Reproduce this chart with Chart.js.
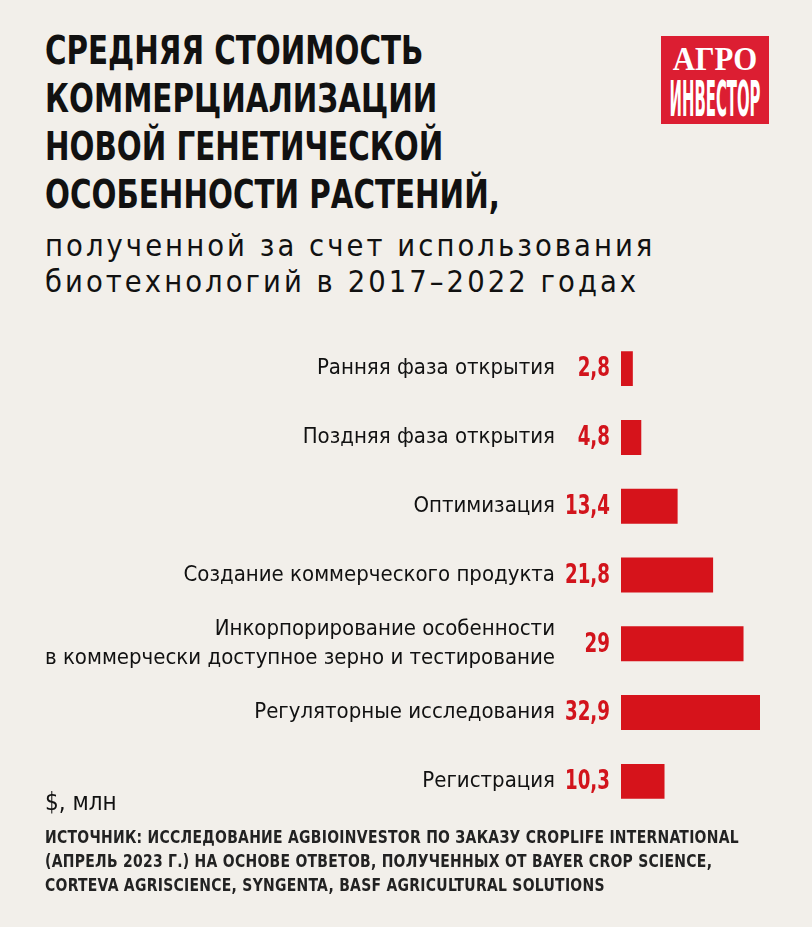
<!DOCTYPE html>
<html lang="ru">
<head>
<meta charset="utf-8">
<script src="https://cdn.jsdelivr.net/npm/chart.js@4.4.0/dist/chart.umd.min.js"></script>
<style>
  html, body { margin: 0; padding: 0; background: #f2efea; }
  body { width: 812px; height: 927px; position: relative; overflow: hidden; color: #111; }
  .narrow { font-family: "DejaVu Sans Condensed", "DejaVu Sans", sans-serif; font-stretch: condensed; }
  .fit { display: inline-block; transform-origin: left top; white-space: nowrap; }
  #title { position: absolute; left: 45px; top: 27px; font-weight: bold; font-size: 39px; line-height: 48px; }
  #subtitle { position: absolute; left: 45px; top: 228px; font-size: 30px; line-height: 36px; letter-spacing: 3px; }
  #unit { position: absolute; left: 45px; top: 788px; font-size: 24px; line-height: 28px; }
  #source { position: absolute; left: 45px; top: 825px; font-weight: bold; font-size: 17px; line-height: 24px; color: #222; letter-spacing: 0.3px; }
  #logo { position: absolute; left: 661px; top: 36px; width: 108px; height: 88px; background: #dc1e32; color: #fff; }
  #logo div { position: absolute; left: 50%; white-space: nowrap; font-weight: bold; }
  #logo .l1 { top: 3px; font-family: "Liberation Serif", serif; font-size: 33px; line-height: 40px; }
  #logo .l2 { top: 38px; font-size: 50px; line-height: 50px; }
  #chartWrap { position: absolute; left: 0; top: 320px; width: 812px; height: 510px; }
</style>
</head>
<body>
<div id="title" class="narrow fit" data-w="455">СРЕДНЯЯ СТОИМОСТЬ<br>КОММЕРЦИАЛИЗАЦИИ<br>НОВОЙ ГЕНЕТИЧЕСКОЙ<br>ОСОБЕННОСТИ РАСТЕНИЙ,</div>
<div id="subtitle" class="narrow fit" data-w="610">полученной за счет использования<br>биотехнологий в 2017–2022 годах</div>
<div id="logo"><div class="l1" data-w="84">АГРО</div><div class="l2 narrow" data-w="91">ИНВЕСТОР</div></div>
<div id="chartWrap"><canvas id="costChart" width="812" height="510"></canvas></div>
<div id="unit" class="narrow">$, млн</div>
<div id="source" class="narrow fit" data-w="694">ИСТОЧНИК: ИССЛЕДОВАНИЕ AGBIOINVESTOR ПО ЗАКАЗУ CROPLIFE INTERNATIONAL<br>(АПРЕЛЬ 2023 Г.) НА ОСНОВЕ ОТВЕТОВ, ПОЛУЧЕННЫХ ОТ BAYER CROP SCIENCE,<br>CORTEVA AGRISCIENCE, SYNGENTA, BASF AGRICULTURAL SOLUTIONS</div>

<script>
const NARROW = '"DejaVu Sans Condensed", "DejaVu Sans", sans-serif';

// этапы коммерциализации
const stages = [
    'Ранняя фаза открытия',
    'Поздняя фаза открытия',
    'Оптимизация',
    'Создание коммерческого продукта',
    ['Инкорпорирование особенности', 'в коммерчески доступное зерно и тестирование'],
    'Регуляторные исследования',
    'Регистрация'
];
// средняя стоимость, $ млн
const costs = [2.8, 4.8, 13.4, 21.8, 29, 32.9, 10.3];

const BAR_RED = '#d6131b';

// сжать блоки текста по ширине, как в макете
document.querySelectorAll('.fit').forEach(el => {
    const k = el.dataset.w / el.offsetWidth;
    el.style.transform = 'scaleX(' + k + ')';
});
document.querySelectorAll('#logo div').forEach(el => {
    const k = el.dataset.w / el.offsetWidth;
    el.style.transform = 'translateX(-50%) scaleX(' + k + ')';
});

// подписи значений слева от столбцов
const valueLabels = {
    id: 'valueLabels',
    afterDatasetsDraw(chart) {
        const ctx = chart.ctx;
        const meta = chart.getDatasetMeta(0);
        ctx.save();
        ctx.font = 'bold 26px ' + NARROW;
        ctx.fillStyle = '#d2141c';
        ctx.textAlign = 'right';
        ctx.textBaseline = 'middle';
        meta.data.forEach((bar, i) => {
            const txt = String(costs[i]).replace('.', ',');
            ctx.save();
            ctx.translate(chart.chartArea.left - 11, bar.y + 1);
            ctx.scale(0.78, 1);
            ctx.fillText(txt, 0, 0);
            ctx.restore();
        });
        ctx.restore();
    }
};

const ctx = document.getElementById('costChart').getContext('2d');
new Chart(ctx, {
    type: 'bar',
    data: {
        labels: stages,
        datasets: [{
            data: costs,
            backgroundColor: BAR_RED,
            borderWidth: 0,
            barPercentage: 1,
            categoryPercentage: 0.507
        }]
    },
    options: {
        indexAxis: 'y',
        responsive: false,
        animation: false,
        layout: { padding: { top: 13, bottom: 14, left: 0, right: 22 } },
        scales: {
            x: {
                display: false,
                min: 0,
                max: 40
            },
            y: {
                grid: { display: false, drawTicks: true, tickLength: 66 },
                border: { display: false },
                ticks: {
                    padding: 0,
                    color: '#111',
                    font: { family: NARROW, size: 22, lineHeight: 1.3 }
                },
                afterFit(scale) { scale.width = 621; }
            }
        },
        plugins: {
            legend: { display: false },
            tooltip: { enabled: false }
        }
    },
    plugins: [valueLabels]
});
</script>
</body>
</html>
